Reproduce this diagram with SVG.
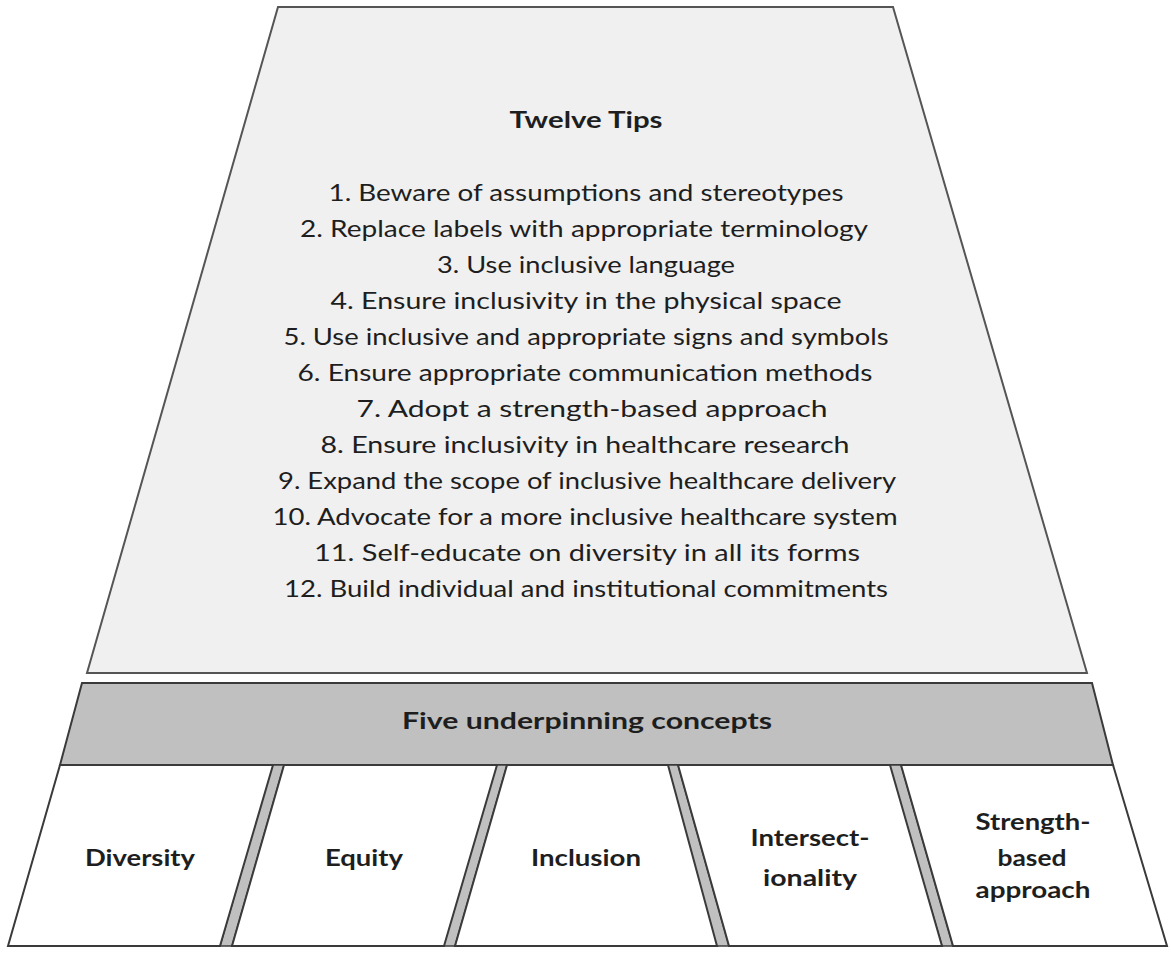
<svg xmlns="http://www.w3.org/2000/svg" width="1171" height="953" viewBox="0 0 1171 953">
<style>
.shape{stroke:#3a3a3a;stroke-width:2;stroke-linejoin:miter}
.top{fill:#f0f0f0;stroke:#555}
.band{fill:#c0c0c0}
.box{fill:#ffffff}
.gap{fill:#c0c0c0;stroke-width:1.5}
text{font-family:Lato,"Liberation Sans",sans-serif;fill:#1e1e1e;text-anchor:middle}
.tip{font-size:23px}
.bold{font-size:23px;font-weight:bold}
</style>
<rect width="1171" height="953" fill="#ffffff"/>
<g id="twelve-tips">
<polygon class="shape top" points="278,7 893,7 1087,673 87,673"/>
<text class="bold" x="586" y="128" textLength="153" lengthAdjust="spacingAndGlyphs">Twelve Tips</text>
<text class="tip" x="586" y="201" textLength="515" lengthAdjust="spacingAndGlyphs">1. Beware of assumptions and stereotypes</text>
<text class="tip" x="584" y="237" textLength="568" lengthAdjust="spacingAndGlyphs">2. Replace labels with appropriate terminology</text>
<text class="tip" x="586" y="273" textLength="298" lengthAdjust="spacingAndGlyphs">3. Use inclusive language</text>
<text class="tip" x="586" y="309" textLength="511" lengthAdjust="spacingAndGlyphs">4. Ensure inclusivity in the physical space</text>
<text class="tip" x="586" y="345" textLength="605" lengthAdjust="spacingAndGlyphs">5. Use inclusive and appropriate signs and symbols</text>
<text class="tip" x="585" y="381" textLength="575" lengthAdjust="spacingAndGlyphs">6. Ensure appropriate communication methods</text>
<text class="tip" x="592" y="417" textLength="471" lengthAdjust="spacingAndGlyphs">7. Adopt a strength-based approach</text>
<text class="tip" x="585" y="453" textLength="529" lengthAdjust="spacingAndGlyphs">8. Ensure inclusivity in healthcare research</text>
<text class="tip" x="587" y="489" textLength="618" lengthAdjust="spacingAndGlyphs">9. Expand the scope of inclusive healthcare delivery</text>
<text class="tip" x="585" y="525" textLength="625" lengthAdjust="spacingAndGlyphs">10. Advocate for a more inclusive healthcare system</text>
<text class="tip" x="587" y="561" textLength="546" lengthAdjust="spacingAndGlyphs">11. Self-educate on diversity in all its forms</text>
<text class="tip" x="586" y="597" textLength="604" lengthAdjust="spacingAndGlyphs">12. Build individual and institutional commitments</text>
</g>
<g id="five-concepts">
<polygon class="shape band" points="82,683 1092,683 1113,765 60,765"/>
<text class="bold" x="587" y="729" textLength="370" lengthAdjust="spacingAndGlyphs">Five underpinning concepts</text>
</g>
<g id="connectors">
<polygon class="shape gap" points="272,765 284,765 232,946 220,946"/>
<polygon class="shape gap" points="496,765 507,765 455,946 443,946"/>
<polygon class="shape gap" points="667,765 678,765 729,946 716,946"/>
<polygon class="shape gap" points="889,765 901,765 953,946 942,946"/>
</g>
<g id="diversity">
<polygon class="shape box" points="60,765 273,765 220,946 8,946"/>
<text class="bold" x="140" y="866" textLength="110" lengthAdjust="spacingAndGlyphs">Diversity</text>
</g>
<g id="equity">
<polygon class="shape box" points="284,765 497,765 444,946 232,946"/>
<text class="bold" x="364" y="866" textLength="78" lengthAdjust="spacingAndGlyphs">Equity</text>
</g>
<g id="inclusion">
<polygon class="shape box" points="507,765 668,765 717,946 455,946"/>
<text class="bold" x="586" y="866" textLength="110" lengthAdjust="spacingAndGlyphs">Inclusion</text>
</g>
<g id="intersectionality">
<polygon class="shape box" points="678,765 890,765 942,946 729,946"/>
<text class="bold" x="810" y="846" textLength="119" lengthAdjust="spacingAndGlyphs">Intersect-</text>
<text class="bold" x="810" y="886" textLength="94" lengthAdjust="spacingAndGlyphs">ionality</text>
</g>
<g id="strength-based">
<polygon class="shape box" points="901,765 1113,765 1167,946 953,946"/>
<text class="bold" x="1033" y="830" textLength="115" lengthAdjust="spacingAndGlyphs">Strength-</text>
<text class="bold" x="1032" y="866" textLength="69" lengthAdjust="spacingAndGlyphs">based</text>
<text class="bold" x="1033" y="898" textLength="115" lengthAdjust="spacingAndGlyphs">approach</text>
</g>
</svg>
